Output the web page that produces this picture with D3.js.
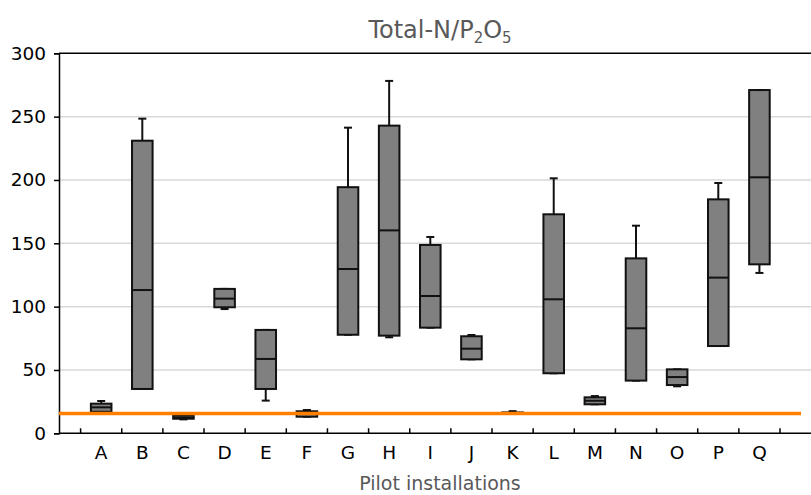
<!DOCTYPE html>
<html>
<head>
<meta charset="utf-8">
<script src="https://cdn.jsdelivr.net/npm/d3@7"></script>
<style>
  html, body { margin: 0; padding: 0; background: #fff; }
  svg { display: block; font-family: "DejaVu Sans", Verdana, sans-serif; }
</style>
</head>
<body>
<svg id="chart" width="811" height="495"></svg>
<script>
// Pilot installations and their Total-N/P2O5 box statistics
const categories = ["A","B","C","D","E","F","G","H","I","J","K","L","M","N","O","P","Q"];
const whiskerHigh = [25.5, 248.4, 14.2, 114.0, 81.6, 18.4, 241.3, 278.2, 155.0, 77.6, 17.5, 201.3, 29.4, 163.9, 50.5, 197.6, 271.0];
const q3Values    = [23.4, 231.0, 14.2, 114.0, 81.6, 17.4, 194.3, 242.9, 148.7, 76.6, 16.5, 172.9, 28.4, 138.1, 50.5, 184.7, 271.0];
const medians     = [20.5, 113.1, 12.6, 106.3, 58.7, 15.2, 129.7, 160.2, 108.4, 66.8, 16.0, 105.8, 25.7,  82.9, 44.4, 122.9, 202.1];
const q1Values    = [17.0,  35.0, 11.5,  99.5, 35.0, 13.1,  77.8,  77.1,  83.4, 58.4, 15.5,  47.4, 22.9,  41.6, 38.1,  68.9, 133.4];
const whiskerLow  = [17.0,  35.0, 11.0,  98.1, 25.8, 13.1,  77.8,  75.8,  83.4, 58.4, 15.5,  47.4, 22.9,  41.6, 37.1,  68.9, 126.6];
const yTicks = [0, 50, 100, 150, 200, 250, 300];
const referenceLevel = 15.6;

const boxes = categories.map((c, i) => ({
  cat: c, hi: whiskerHigh[i], q3: q3Values[i], med: medians[i], q1: q1Values[i], lo: whiskerLow[i]
}));

const svg = d3.select("#chart");
const plotLeft = 59, plotRight = 811, plotTop = 53.3, plotBottom = 433.3;
const labelFont = "'DejaVu Sans', Verdana, sans-serif";

const y = d3.scaleLinear().domain([0, 300]).range([plotBottom, plotTop]);
const x = d3.scaleBand().domain(categories).range([80.6, 780]).padding(0);

// horizontal gridlines
svg.append("g").selectAll("line")
  .data(yTicks.filter(v => v > 0 && v < 300))
  .join("line")
  .attr("x1", plotLeft).attr("x2", plotRight)
  .attr("y1", d => y(d)).attr("y2", d => y(d))
  .attr("stroke", "#d9d9d9").attr("stroke-width", 1.5);

// top frame line
svg.append("line")
  .attr("x1", plotLeft).attr("x2", plotRight)
  .attr("y1", y(300)).attr("y2", y(300))
  .attr("stroke", "#000").attr("stroke-width", 1.5);

// y axis
const yAxis = svg.append("g")
  .attr("transform", `translate(${plotLeft},0)`)
  .call(d3.axisLeft(y).tickValues(yTicks).tickSize(5).tickPadding(8));
yAxis.select(".domain").attr("stroke", "#000").attr("stroke-width", 1.5);
yAxis.selectAll(".tick line").attr("stroke", "#000").attr("stroke-width", 1.5);
yAxis.selectAll(".tick text").attr("font-size", 18.5).attr("fill", "#000")
  .attr("font-family", labelFont);

// x axis: labels at band centres, tick marks at band boundaries
const xAxis = svg.append("g")
  .attr("transform", `translate(0,${plotBottom})`)
  .call(d3.axisBottom(x).tickSize(0).tickPadding(13));
xAxis.select(".domain").remove();
xAxis.selectAll(".tick text").attr("font-size", 18.5).attr("fill", "#000")
  .attr("font-family", labelFont);

svg.append("line")
  .attr("x1", plotLeft).attr("x2", plotRight)
  .attr("y1", plotBottom).attr("y2", plotBottom)
  .attr("stroke", "#000").attr("stroke-width", 1.5);

const boundaries = categories.map(c => x(c)).concat([x(categories[categories.length - 1]) + x.step()]);
svg.append("g").selectAll("line")
  .data(boundaries)
  .join("line")
  .attr("x1", d => d).attr("x2", d => d)
  .attr("y1", plotBottom).attr("y2", plotBottom - 5)
  .attr("stroke", "#000").attr("stroke-width", 1.5);

// box plots
const boxW = x.bandwidth() * 0.5;
const capW = 8;
const g = svg.append("g");
const item = g.selectAll("g.box").data(boxes).join("g").attr("class", "box")
  .attr("transform", d => `translate(${x(d.cat) + x.bandwidth() / 2},0)`);

// whiskers
item.append("line")
  .attr("x1", 0).attr("x2", 0)
  .attr("y1", d => y(d.hi)).attr("y2", d => y(d.q3))
  .attr("stroke", "#111").attr("stroke-width", 2);
item.append("line")
  .attr("x1", -capW / 2).attr("x2", capW / 2)
  .attr("y1", d => y(d.hi)).attr("y2", d => y(d.hi))
  .attr("stroke", "#111").attr("stroke-width", 2);
item.append("line")
  .attr("x1", 0).attr("x2", 0)
  .attr("y1", d => y(d.q1)).attr("y2", d => y(d.lo))
  .attr("stroke", "#111").attr("stroke-width", 2);
item.append("line")
  .attr("x1", -capW / 2).attr("x2", capW / 2)
  .attr("y1", d => y(d.lo)).attr("y2", d => y(d.lo))
  .attr("stroke", "#111").attr("stroke-width", 2);

// boxes
item.append("rect")
  .attr("x", -boxW / 2).attr("width", boxW)
  .attr("y", d => y(d.q3))
  .attr("height", d => Math.max(0.5, y(d.q1) - y(d.q3)))
  .attr("fill", "#808080").attr("stroke", "#111").attr("stroke-width", 2);

// medians
item.append("line")
  .attr("x1", -boxW / 2).attr("x2", boxW / 2)
  .attr("y1", d => y(d.med)).attr("y2", d => y(d.med))
  .attr("stroke", "#111").attr("stroke-width", 2);

// reference level
svg.append("line")
  .attr("x1", plotLeft).attr("x2", 801)
  .attr("y1", y(referenceLevel)).attr("y2", y(referenceLevel))
  .attr("stroke", "#ff7f00").attr("stroke-width", 3.5);

// title with sub-scripts
const title = svg.append("text")
  .attr("x", 440).attr("y", 38)
  .attr("text-anchor", "middle")
  .attr("font-size", 24).attr("fill", "#595959");
title.append("tspan").text("Total-N/P");
title.append("tspan").text("2").attr("font-size", 15).attr("dy", 5);
title.append("tspan").text("O").attr("dy", -5);
title.append("tspan").text("5").attr("font-size", 15).attr("dy", 5);

// axis title
svg.append("text")
  .attr("x", 440).attr("y", 490)
  .attr("text-anchor", "middle")
  .attr("font-size", 19).attr("fill", "#595959")
  .text("Pilot installations");
</script>
</body>
</html>
